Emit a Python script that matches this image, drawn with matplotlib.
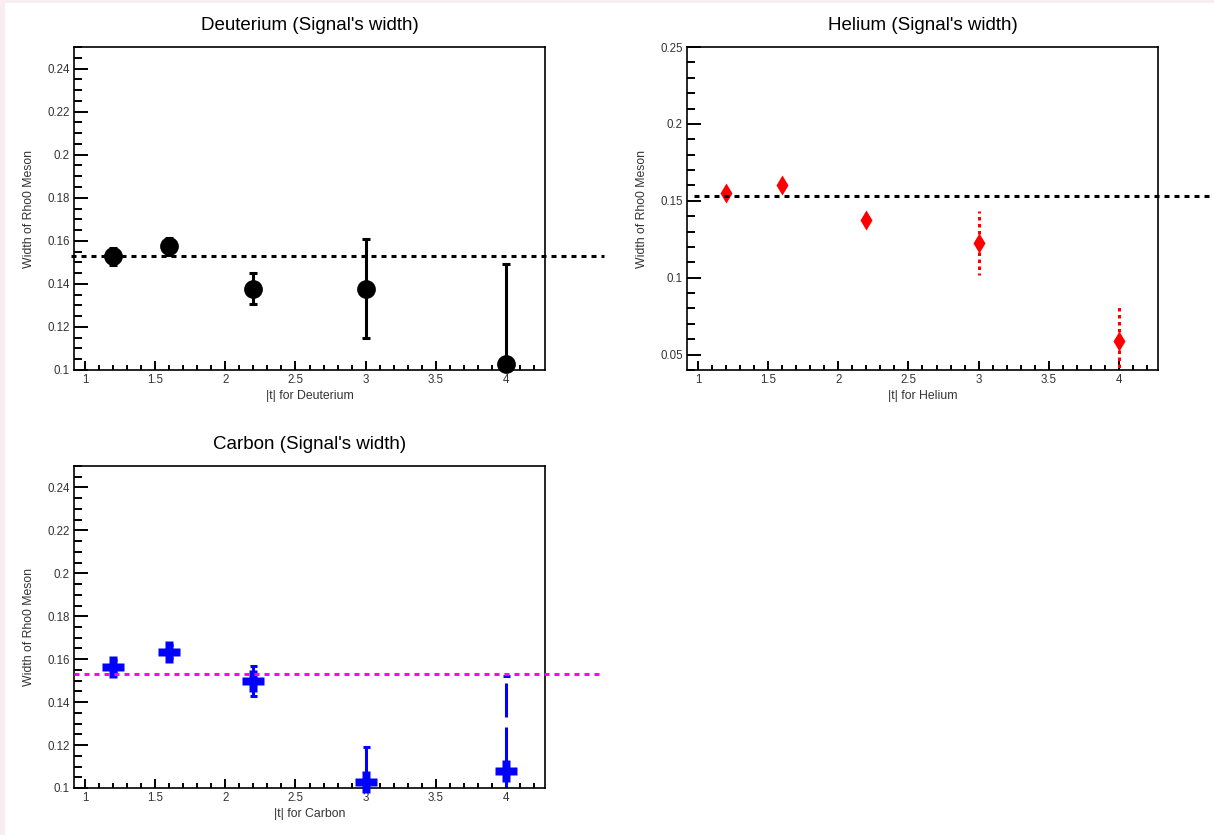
import matplotlib
matplotlib.use("Agg")
import matplotlib.pyplot as plt
from matplotlib.ticker import MultipleLocator, FuncFormatter
from matplotlib.patches import Rectangle

plt.rcParams["font.family"] = ["Liberation Sans", "DejaVu Sans"]
plt.rcParams["lines.scale_dashes"] = False

# |t| bins shared by all three targets
t_values = [1.2, 1.6, 2.2, 3.0, 4.0]

# Fitted rho0 width and its uncertainty per |t| bin
deuterium_width = [0.1528, 0.1575, 0.1378, 0.1378, 0.1028]
deuterium_err = [0.004, 0.004, 0.0072, 0.0230, 0.0462]

helium_width = [0.1550, 0.1605, 0.1375, 0.1225, 0.0591]
helium_err = [0.004, 0.004, 0.004, 0.0210, 0.0217]

carbon_width = [0.1565, 0.1635, 0.1500, 0.1030, 0.1080]
carbon_err = [0.003, 0.003, 0.0070, 0.0160, 0.0440]

# Reference width drawn as a horizontal line
reference_width = 0.153

W, H = 1214, 835
fig = plt.figure(figsize=(W / 100, H / 100), dpi=100)
fig.patch.set_facecolor("#f8eef2")
fig.patches.append(Rectangle((5 / W, 0), 1, 1 - 3 / H, transform=fig.transFigure,
                             facecolor="white", edgecolor="none", zorder=-10))

PT = 72 / 100  # points per pixel


def px_axes(left, top, right, bottom):
    return fig.add_axes([left / W, 1 - bottom / H, (right - left) / W, (bottom - top) / H])


def fmt(v, pos):
    s = ("%.3f" % v).rstrip("0")
    if s.endswith("."):
        s = s[:-1]
    return s


def style_axes(ax, title, xlabel, ylim, ymajor, yminor):
    ax.set_xlim(0.92, 4.28)
    ax.set_ylim(*ylim)
    ax.xaxis.set_major_locator(MultipleLocator(0.5))
    ax.xaxis.set_minor_locator(MultipleLocator(0.1))
    ax.yaxis.set_major_locator(MultipleLocator(ymajor))
    ax.yaxis.set_minor_locator(MultipleLocator(yminor))
    ax.xaxis.set_major_formatter(FuncFormatter(fmt))
    ax.yaxis.set_major_formatter(FuncFormatter(fmt))
    ax.tick_params(axis="both", which="both", direction="in", top=False, right=False,
                   width=1.4, labelsize=8.3, labelcolor="#333333")
    ax.tick_params(axis="y", which="major", length=10, pad=3)
    ax.tick_params(axis="y", which="minor", length=5.5)
    ax.tick_params(axis="x", which="major", length=6.5, pad=3)
    ax.tick_params(axis="x", which="minor", length=3.5)
    for sp in ax.spines.values():
        sp.set_linewidth(1.2)
    ax.set_title(title, fontsize=13.5, pad=12)
    ax.set_xlabel(xlabel, fontsize=8.8, labelpad=3, color="#333333")
    ax.set_ylabel("Width of Rho0 Meson", fontsize=8.8, labelpad=9, color="#333333")


def draw_series(ax, y, yerr, color, marker, ms, half_px, dash_px, cap_px):
    # error bars run outward from the marker edge, dash pattern starting there
    lw = 2.2
    if dash_px is not None:
        on, off = dash_px[0] * PT, dash_px[1] * PT
        ls = ((on + off) - half_px * PT, (on, off))
    else:
        ls = "-"
    for x, v, e in zip(t_values, y, yerr):
        for sign in (1, -1):
            ax.plot([x, x], [v, v + sign * e], color=color, lw=lw, ls=ls,
                    solid_capstyle="butt", dash_capstyle="butt", zorder=2)
            if cap_px:
                ax.plot([x], [v + sign * e], marker="_", ms=cap_px * PT, mew=lw,
                        color=color, ls="none", zorder=2)
    ax.plot(t_values, y, ls="none", marker=marker, ms=ms, color=color, mec="none",
            clip_on=False, zorder=3)


def ref_line(ax, x0, x1, color):
    ax.plot([x0, x1], [reference_width, reference_width], color=color, lw=2.2,
            dashes=(3.6, 3.6), clip_on=False, zorder=5)


# Deuterium
ax1 = px_axes(74, 47, 545, 370)
style_axes(ax1, "Deuterium (Signal's width)", "|t| for Deuterium", (0.1, 0.25), 0.02, 0.005)
draw_series(ax1, deuterium_width, deuterium_err, "black", "o", 13.5, 9, None, 8)
ref_line(ax1, 0.90, 4.70, "black")

# Helium
ax2 = px_axes(687, 47, 1158, 370)
style_axes(ax2, "Helium (Signal's width)", "|t| for Helium", (0.04, 0.25), 0.05, 0.01)
draw_series(ax2, helium_width, helium_err, "#ff0000", "d", 10, 9, (3.5, 3.5), 0)
ref_line(ax2, 0.97, 5.0, "black")

# Carbon
ax3 = px_axes(74, 466, 545, 788)
style_axes(ax3, "Carbon (Signal's width)", "|t| for Carbon", (0.1, 0.25), 0.02, 0.005)
draw_series(ax3, carbon_width, carbon_err, "#0000ff", "P", 15.5, 10, (34, 10), 7)
ref_line(ax3, 0.92, 4.70, "#ff00ff")

fig.savefig("out.png", dpi=100, facecolor=fig.get_facecolor())
